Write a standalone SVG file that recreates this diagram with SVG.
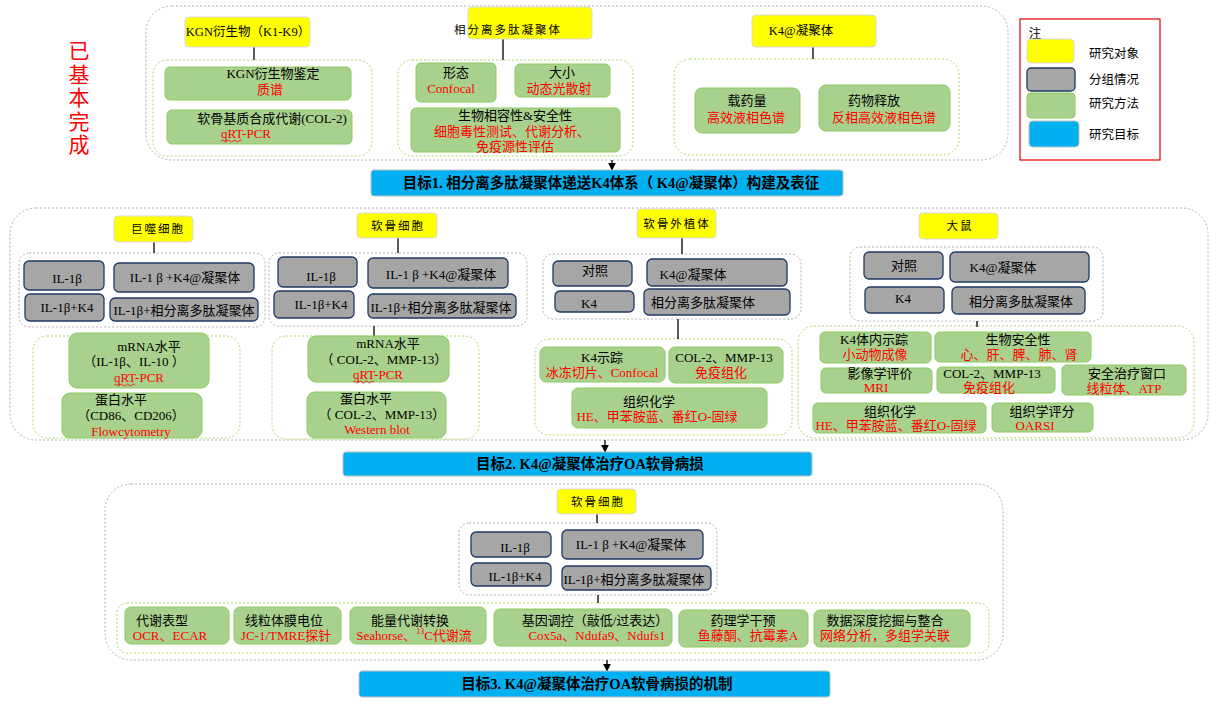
<svg xmlns="http://www.w3.org/2000/svg" width="1218" height="702" viewBox="0 0 1218 702">
<style>
text{font-family:"Liberation Serif","Noto Sans CJK SC",serif;font-size:13px;fill:#000;dominant-baseline:central;text-anchor:middle}
.r{fill:#FF0000}
.y{fill:#FFFF00;stroke:#D9D9D9;stroke-width:1}
.g{fill:#A6A6A6;stroke:#1F3864;stroke-width:1.3}
.m{fill:#A9D18E;stroke:#8CCB5E;stroke-width:1}
.b{fill:#00B0F0;stroke:#BFBFBF;stroke-width:1}
.od{fill:none;stroke:#B0B0B0;stroke-width:1;stroke-dasharray:2 2}
.gd{fill:none;stroke:#A9D96A;stroke-width:1;stroke-dasharray:2 2}
.yl{font-size:11.5px;letter-spacing:2px}
.goal{font-size:14.5px;font-weight:bold}
.sans{font-family:"Noto Sans CJK SC",sans-serif}
.ln{stroke:#000;stroke-width:1.3;fill:none}
.wv{stroke:#FF0000;stroke-width:0.8;fill:none}
</style>
<defs>
<marker id="ah" viewBox="0 0 10 10" refX="9" refY="5" markerWidth="6" markerHeight="6" orient="auto"><path d="M0,0 L10,5 L0,10 z" fill="#000"/></marker>
</defs>

<g id="done-note"><text class="sans r" x="79" y="40" style="font-size:21px;writing-mode:vertical-rl;text-anchor:start;letter-spacing:2.5px">已基本完成</text></g>

<!-- containers -->
<g id="containers">
<rect class="od" x="146" y="6" width="862" height="154" rx="26"/>
<rect class="gd" x="153" y="60" width="219" height="96" rx="14"/>
<rect class="gd" x="398" y="60" width="235" height="96" rx="14"/>
<rect class="gd" x="674" y="59" width="285" height="96" rx="16"/>
<rect class="od" x="10" y="208" width="1198" height="232" rx="26"/>
<rect class="od" x="19" y="253" width="246" height="74" rx="10"/>
<rect class="od" x="269" y="253" width="258" height="73" rx="10"/>
<rect class="od" x="543" y="254" width="258" height="65" rx="10"/>
<rect class="od" x="850" y="247" width="253" height="74" rx="10"/>
<rect class="gd" x="33" y="336" width="207" height="102" rx="14"/>
<rect class="gd" x="272" y="336" width="207" height="103" rx="14"/>
<rect class="gd" x="535" y="339" width="257" height="96" rx="14"/>
<rect class="gd" x="798" y="326" width="396" height="112" rx="16"/>
<rect class="od" x="105" y="484" width="898" height="176" rx="26"/>
<rect class="od" x="459" y="523" width="258" height="72" rx="10"/>
<rect class="gd" x="117" y="603" width="872" height="50" rx="10"/>
</g>

<!-- connectors -->
<g id="connectors">
<line class="ln" x1="254" y1="47" x2="254" y2="60"/>
<line class="ln" x1="503" y1="39" x2="503" y2="60"/>
<line class="ln" x1="813" y1="47" x2="813" y2="59"/>
<line class="ln" x1="612" y1="160" x2="612" y2="170" marker-end="url(#ah)"/>
<line class="ln" x1="154" y1="242" x2="154" y2="253"/>
<line class="ln" x1="398" y1="238" x2="398" y2="253"/>
<line class="ln" x1="682" y1="238" x2="682" y2="254"/>
<line class="ln" x1="374" y1="326" x2="374" y2="336"/>
<line class="ln" x1="678" y1="319" x2="678" y2="339"/>
<line class="ln" x1="977" y1="321" x2="977" y2="327"/>
<line class="ln" x1="605" y1="440" x2="605" y2="452" marker-end="url(#ah)"/>
<line class="ln" x1="597" y1="514" x2="597" y2="523"/>
<line class="ln" x1="598" y1="595" x2="598" y2="603"/>
<line class="ln" x1="607" y1="660" x2="607" y2="671" marker-end="url(#ah)"/>
</g>

<!-- Section 1 -->
<g id="n-kgn"><rect class="y" x="185" y="17" width="125" height="30" rx="4"/><text x="248" y="32" style="font-size:12.5px">KGN衍生物（K1-K9）</text></g>
<g id="n-lps"><rect class="y" x="468" y="7" width="124" height="32" rx="4"/><text class="yl" x="508" y="30">相分离多肽凝聚体</text></g>
<g id="n-k4c"><rect class="y" x="752" y="15" width="124" height="32" rx="4"/><text x="801" y="31" style="font-size:12.5px">K4@凝聚体</text></g>

<g id="n-kgnid"><rect class="m" x="165" y="67" width="186" height="33" rx="5"/><text x="273" y="73">KGN衍生物鉴定</text><text class="r" x="270" y="89">质谱</text></g>
<g id="n-col2"><rect class="m" x="167" y="110" width="185" height="34" rx="5"/><text x="272" y="118">软骨基质合成代谢(COL-2)</text><text class="r" x="246" y="133">qRT-PCR</text><path class="wv" d="M221,141 q1.5,-2 3,0 t3,0 t3,0 t3,0 t3,0 t3,0 t3,0"/></g>
<g id="n-morph"><rect class="m" x="416" y="63" width="80" height="39" rx="5"/><text x="456" y="72">形态</text><text class="r" x="451" y="88">Confocal</text></g>
<g id="n-size"><rect class="m" x="515" y="64" width="95" height="33" rx="5"/><text x="562" y="72">大小</text><text class="r" x="559" y="88">动态光散射</text></g>
<g id="n-bio"><rect class="m" x="411" y="108" width="209" height="44" rx="5"/><text x="515" y="115">生物相容性&amp;安全性</text><text class="r" x="512" y="131">细胞毒性测试、代谢分析、</text><text class="r" x="515" y="146">免疫源性评估</text></g>
<g id="n-load"><rect class="m" x="695" y="88" width="105" height="45" rx="7"/><text x="747" y="100">载药量</text><text class="r" x="746" y="117">高效液相色谱</text></g>
<g id="n-rel"><rect class="m" x="819" y="85" width="131" height="46" rx="7"/><text x="874" y="100">药物释放</text><text class="r" x="884" y="117">反相高效液相色谱</text></g>

<g id="goal1"><rect class="b" x="371" y="170" width="472" height="26" rx="3"/><text class="goal" x="611" y="183">目标1. 相分离多肽凝聚体递送K4体系（ K4@凝聚体）构建及表征</text></g>

<!-- Legend -->
<g id="legend">
<rect x="1020" y="19" width="140" height="141" fill="none" stroke="#E00000" stroke-width="1.2"/>
<text class="sans" x="1035" y="32" style="font-size:12.5px">注</text>
<rect class="y" x="1027" y="39" width="47" height="24" rx="4"/>
<rect class="g" x="1027" y="68" width="48" height="23" rx="4"/>
<rect class="m" x="1027" y="93" width="48" height="25" rx="4"/>
<rect class="b" x="1029" y="121" width="50" height="26" rx="4"/>
<text class="sans" x="1114" y="52" style="font-size:12.5px">研究对象</text>
<text class="sans" x="1114" y="78" style="font-size:12.5px">分组情况</text>
<text class="sans" x="1114" y="102" style="font-size:12.5px">研究方法</text>
<text class="sans" x="1114" y="133" style="font-size:12.5px">研究目标</text>
</g>

<!-- Section 2 -->
<g id="n-mac"><rect class="y" x="114" y="216" width="79" height="26" rx="4"/><text class="yl" x="158" y="229">巨噬细胞</text></g>
<g id="n-chon"><rect class="y" x="357" y="213" width="80" height="25" rx="4"/><text class="yl" x="398" y="226">软骨细胞</text></g>
<g id="n-expl"><rect class="y" x="637" y="209" width="79" height="29" rx="4"/><text class="yl" x="677" y="224">软骨外植体</text></g>
<g id="n-rat"><rect class="y" x="919" y="213" width="79" height="26" rx="4"/><text class="yl" x="960" y="226">大鼠</text></g>

<g id="mac-g1"><rect class="g" x="24" y="261" width="80" height="29" rx="5"/><text x="67" y="278">IL-1β</text></g>
<g id="mac-g2"><rect class="g" x="114" y="263" width="140" height="29" rx="5"/><text x="185" y="277">IL-1 β +K4@凝聚体</text></g>
<g id="mac-g3"><rect class="g" x="25" y="294" width="79" height="27" rx="5"/><text x="67" y="307">IL-1β+K4</text></g>
<g id="mac-g4"><rect class="g" x="110" y="298" width="148" height="23" rx="5"/><text x="184" y="310">IL-1β+相分离多肽凝聚体</text></g>

<g id="chon-g1"><rect class="g" x="278" y="257" width="79" height="30" rx="5"/><text x="321" y="276">IL-1β</text></g>
<g id="chon-g2"><rect class="g" x="368" y="258" width="140" height="30" rx="5"/><text x="441" y="274">IL-1 β +K4@凝聚体</text></g>
<g id="chon-g3"><rect class="g" x="274" y="291" width="80" height="27" rx="5"/><text x="321" y="304">IL-1β+K4</text></g>
<g id="chon-g4"><rect class="g" x="368" y="294" width="148" height="24" rx="5"/><text x="441" y="307">IL-1β+相分离多肽凝聚体</text></g>

<g id="expl-g1"><rect class="g" x="553" y="261" width="79" height="25" rx="5"/><text x="595" y="270">对照</text></g>
<g id="expl-g2"><rect class="g" x="647" y="259" width="140" height="27" rx="5"/><text x="693" y="274">K4@凝聚体</text></g>
<g id="expl-g3"><rect class="g" x="555" y="291" width="79" height="21" rx="5"/><text x="589" y="303">K4</text></g>
<g id="expl-g4"><rect class="g" x="644" y="289" width="146" height="26" rx="5"/><text x="703" y="302">相分离多肽凝聚体</text></g>

<g id="rat-g1"><rect class="g" x="864" y="252" width="79" height="27" rx="5"/><text x="904" y="265">对照</text></g>
<g id="rat-g2"><rect class="g" x="950" y="252" width="139" height="30" rx="5"/><text x="1003" y="267">K4@凝聚体</text></g>
<g id="rat-g3"><rect class="g" x="865" y="287" width="79" height="26" rx="5"/><text x="903" y="298">K4</text></g>
<g id="rat-g4"><rect class="g" x="952" y="287" width="133" height="27" rx="5"/><text x="1021" y="301">相分离多肽凝聚体</text></g>

<g id="mac-m1"><rect class="m" x="69" y="333" width="140" height="55" rx="8"/><text x="149" y="346">mRNA水平</text><text x="134" y="361">（IL-1β、IL-10 ）</text><text class="r" x="139" y="377">qRT-PCR</text><path class="wv" d="M114,385 q1.5,-2 3,0 t3,0 t3,0 t3,0 t3,0 t3,0 t3,0"/></g>
<g id="mac-m2"><rect class="m" x="62" y="393" width="140" height="45" rx="8"/><text x="121" y="399">蛋白水平</text><text x="131" y="415">（CD86、CD206）</text><text class="r" x="131" y="431">Flowcytometry</text></g>
<g id="chon-m1"><rect class="m" x="308" y="336" width="141" height="46" rx="8"/><text x="388" y="343">mRNA水平</text><text x="384" y="359">（ COL-2、MMP-13）</text><text class="r" x="378" y="374">qRT-PCR</text><path class="wv" d="M353,382 q1.5,-2 3,0 t3,0 t3,0 t3,0 t3,0 t3,0 t3,0"/></g>
<g id="chon-m2"><rect class="m" x="307" y="392" width="139" height="46" rx="8"/><text x="366" y="398">蛋白水平</text><text x="382" y="414">（ COL-2、MMP-13）</text><text class="r" x="377" y="429">Western blot</text></g>

<g id="expl-m1"><rect class="m" x="540" y="347" width="125" height="35" rx="6"/><text x="602" y="357">K4示踪</text><text class="r" x="602" y="372">冰冻切片、Confocal</text></g>
<g id="expl-m2"><rect class="m" x="669" y="347" width="114" height="36" rx="6"/><text x="724" y="357">COL-2、MMP-13</text><text class="r" x="721" y="372">免疫组化</text></g>
<g id="expl-m3"><rect class="m" x="572" y="388" width="195" height="40" rx="6"/><text x="649" y="401">组织化学</text><text class="r" x="657" y="416">HE、甲苯胺蓝、番红O-固绿</text></g>

<g id="rat-m1"><rect class="m" x="820" y="332" width="111" height="31" rx="5"/><text x="874" y="339">K4体内示踪</text><text class="r" x="875" y="354">小动物成像</text></g>
<g id="rat-m2"><rect class="m" x="935" y="332" width="156" height="30" rx="5"/><text x="1018" y="339">生物安全性</text><text class="r" x="1019" y="354">心、肝、脾、肺、肾</text></g>
<g id="rat-m3"><rect class="m" x="821" y="368" width="111" height="25" rx="5"/><text x="880" y="373">影像学评价</text><text class="r" x="876" y="387">MRI</text></g>
<g id="rat-m4"><rect class="m" x="937" y="367" width="118" height="26" rx="5"/><text x="992" y="373">COL-2、MMP-13</text><text class="r" x="989" y="387">免疫组化</text></g>
<g id="rat-m5"><rect class="m" x="1062" y="365" width="124" height="30" rx="5"/><text x="1127" y="373">安全治疗窗口</text><text class="r" x="1124" y="388">线粒体、ATP</text></g>
<g id="rat-m6"><rect class="m" x="813" y="403" width="173" height="30" rx="5"/><text x="890" y="411">组织化学</text><text class="r" x="896" y="425">HE、甲苯胺蓝、番红O-固绿</text></g>
<g id="rat-m7"><rect class="m" x="992" y="403" width="101" height="29" rx="5"/><text x="1042" y="411">组织学评分</text><text class="r" x="1035" y="425">OARSI</text></g>

<g id="goal2"><rect class="b" x="343" y="452" width="469" height="24" rx="3"/><text class="goal" x="590" y="464">目标2. K4@凝聚体治疗OA软骨病损</text></g>

<!-- Section 3 -->
<g id="n-chon3"><rect class="y" x="557" y="489" width="79" height="25" rx="4"/><text class="yl" x="598" y="502">软骨细胞</text></g>
<g id="c3-g1"><rect class="g" x="471" y="532" width="80" height="25" rx="5"/><text x="515" y="547">IL-1β</text></g>
<g id="c3-g2"><rect class="g" x="562" y="530" width="141" height="29" rx="5"/><text x="631" y="544">IL-1 β +K4@凝聚体</text></g>
<g id="c3-g3"><rect class="g" x="471" y="563" width="80" height="23" rx="5"/><text x="515" y="576">IL-1β+K4</text></g>
<g id="c3-g4"><rect class="g" x="562" y="566" width="149" height="24" rx="5"/><text x="634" y="579">IL-1β+相分离多肽凝聚体</text></g>

<g id="c3-m1"><rect class="m" x="125" y="607" width="104" height="37" rx="6"/><text x="162" y="620">代谢表型</text><text class="r" x="170" y="635">OCR、ECAR</text></g>
<g id="c3-m2"><rect class="m" x="234" y="607" width="107" height="37" rx="6"/><text x="284" y="620">线粒体膜电位</text><text class="r" x="286" y="635">JC-1/TMRE探针</text></g>
<g id="c3-m3"><rect class="m" x="350" y="607" width="136" height="37" rx="6"/><text x="410" y="620">能量代谢转换</text><text class="r" x="414" y="635">Seahorse、<tspan style="font-size:8px" dy="-4">13</tspan><tspan dy="4">C代谢流</tspan></text></g>
<g id="c3-m4"><rect class="m" x="494" y="609" width="178" height="37" rx="6"/><text x="595" y="620">基因调控（敲低/过表达）</text><text class="r" x="597" y="635">Cox5a、Ndufa9、Ndufs1</text></g>
<g id="c3-m5"><rect class="m" x="679" y="610" width="129" height="37" rx="6"/><text x="743" y="620">药理学干预</text><text class="r" x="748" y="635">鱼藤酮、抗霉素A</text></g>
<g id="c3-m6"><rect class="m" x="814" y="610" width="156" height="37" rx="6"/><text x="885" y="620">数据深度挖掘与整合</text><text class="r" x="885" y="635">网络分析，多组学关联</text></g>

<g id="goal3"><rect class="b" x="359" y="671" width="471" height="26" rx="3"/><text class="goal" x="597" y="684">目标3. K4@凝聚体治疗OA软骨病损的机制</text></g>
</svg>
